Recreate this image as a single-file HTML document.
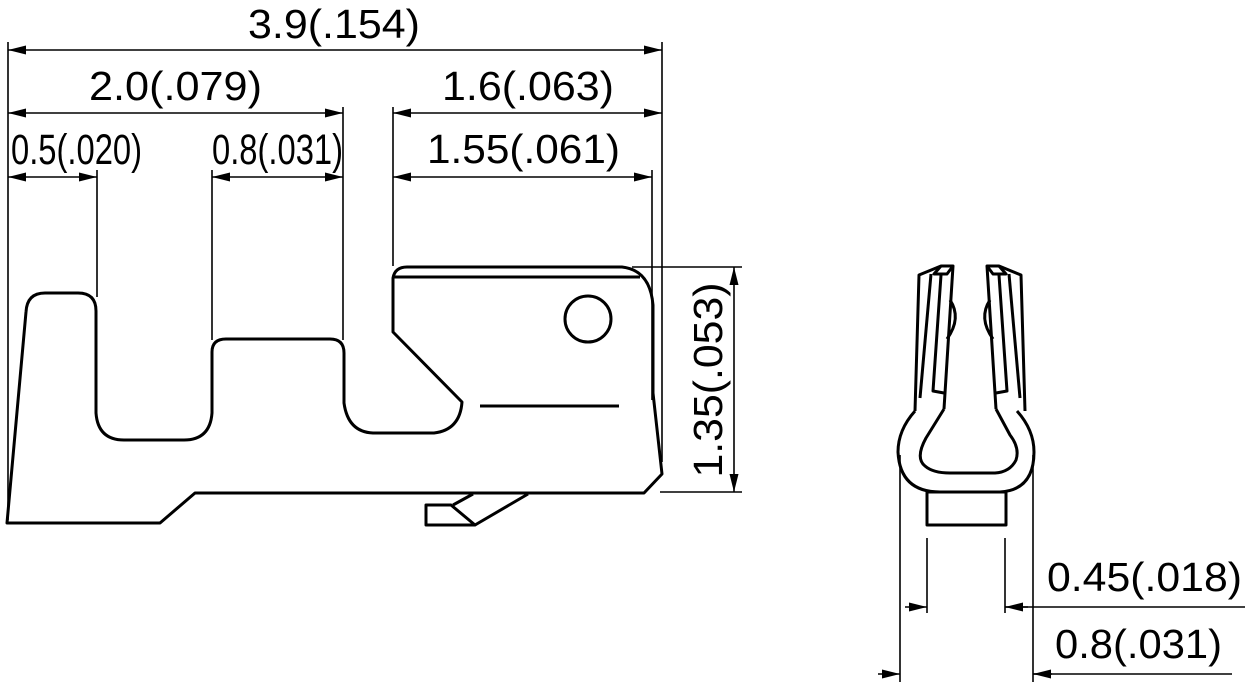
<!DOCTYPE html>
<html><head><meta charset="utf-8"><style>
html,body{margin:0;padding:0;background:#fff;}
svg{display:block;}
text{font-family:"Liberation Sans",Arial,sans-serif;fill:#000;}
</style></head><body>
<svg width="1250" height="688" viewBox="0 0 1250 688" xmlns="http://www.w3.org/2000/svg">
<defs>
<marker id="a" viewBox="0 0 18 9" refX="18" refY="4.5" markerWidth="18" markerHeight="9" markerUnits="userSpaceOnUse" orient="auto-start-reverse">
<path d="M0,0 L18,4.5 L0,9 Z" fill="#000"/></marker>
</defs>
<g stroke="#000" stroke-width="1.6" fill="none">
<line x1="8" y1="42" x2="8" y2="520"/>
<line x1="662" y1="42" x2="662" y2="462"/>
<line x1="652" y1="170" x2="652" y2="400"/>
<line x1="97" y1="170" x2="97" y2="297"/>
<line x1="212" y1="170" x2="212" y2="340"/>
<line x1="343" y1="107" x2="343" y2="340"/>
<line x1="393" y1="107" x2="393" y2="266"/>
<line x1="8" y1="50" x2="662" y2="50" marker-start="url(#a)" marker-end="url(#a)"/>
<line x1="8" y1="113" x2="343" y2="113" marker-start="url(#a)" marker-end="url(#a)"/>
<line x1="393" y1="113" x2="662" y2="113" marker-start="url(#a)" marker-end="url(#a)"/>
<line x1="8" y1="177" x2="97" y2="177" marker-start="url(#a)" marker-end="url(#a)"/>
<line x1="212" y1="177" x2="343" y2="177" marker-start="url(#a)" marker-end="url(#a)"/>
<line x1="393" y1="177" x2="652" y2="177" marker-start="url(#a)" marker-end="url(#a)"/>
<line x1="632" y1="267" x2="742" y2="267"/>
<line x1="660" y1="492" x2="742" y2="492"/>
<line x1="734" y1="267" x2="734" y2="492" marker-start="url(#a)" marker-end="url(#a)"/>
</g>
<g stroke="#000" stroke-width="3" fill="none" stroke-linejoin="round">
<path d="M7,523 L26,312 Q27,293 45,293 L78,293 Q96,293 96,311 L96,413 Q98,440 124,440 L184,440 Q210,440 212,413 L212,352 Q212,339 226,339 L330,339 Q344,339 344,353 L344,403 Q348,432 373,433 L434,433 Q460,430 462,402 L393,332 L393,278 Q395,267 407,267 L622,267 Q650,270 653,305 L653,393 L662,474 L644,493 L195,493 L160,523 Z"/>
<line x1="393" y1="277" x2="640" y2="277"/>
<circle cx="588" cy="319" r="23"/>
<line x1="480" y1="406" x2="619" y2="406"/>
<path d="M426,505 L451,505 L475,525 L426,525 Z"/>
<path d="M475,525 L528,494"/>
<path d="M453,505 L473,494"/>
</g>
<g stroke="#000" stroke-width="3" fill="none" stroke-linejoin="round">
<path d="M915,411 L919,275 L941,266 L953,266 L944,409"/>
<path d="M931,274 L920,398"/>
<path d="M941,275 L933,391 L944,393"/>
<path d="M941,266 L934,274 L947,274 L953,266"/>
<path d="M950,300 Q962,318 947,339"/>
<path d="M1025,411 L1021,275 L999,266 L987,266 L996,409"/>
<path d="M1009,274 L1020,398"/>
<path d="M999,275 L1007,391 L996,393"/>
<path d="M999,266 L1006,274 L993,274 L987,266"/>
<path d="M990,300 Q978,318 993,339"/>
<path d="M915,411 Q898,430 898,452 Q900,492 940,492 L1000,492 Q1034,490 1034,452 Q1034,430 1017,411"/>
<path d="M944,409 L926,438 Q915,458 925,466 Q933,473 950,473 L995,473 Q1010,472 1016,460 Q1020,448 1010,435 L996,409"/>
<rect x="927" y="492" width="79" height="33"/>
</g>
<g stroke="#000" stroke-width="1.6" fill="none">
<line x1="900" y1="455" x2="900" y2="682"/>
<line x1="1033" y1="455" x2="1033" y2="682"/>
<line x1="927" y1="538" x2="927" y2="613"/>
<line x1="1005" y1="538" x2="1005" y2="613"/>
<line x1="905" y1="607" x2="927" y2="607" marker-end="url(#a)"/>
<line x1="1028" y1="607" x2="1005" y2="607" marker-end="url(#a)"/>
<line x1="1005" y1="607" x2="1245" y2="607"/>
<line x1="878" y1="674" x2="900" y2="674" marker-end="url(#a)"/>
<line x1="1052" y1="674" x2="1033" y2="674" marker-end="url(#a)"/>
<line x1="1033" y1="674" x2="1232" y2="674"/>
</g>
<g font-size="41">
<text x="248" y="38" textLength="172" lengthAdjust="spacingAndGlyphs">3.9(.154)</text>
<text x="89" y="100" textLength="173" lengthAdjust="spacingAndGlyphs">2.0(.079)</text>
<text x="442" y="100" textLength="172" lengthAdjust="spacingAndGlyphs">1.6(.063)</text>
<text x="427" y="163" textLength="193" lengthAdjust="spacingAndGlyphs">1.55(.061)</text>
<text x="1047" y="591" textLength="195" lengthAdjust="spacingAndGlyphs">0.45(.018)</text>
<text x="1055" y="658" textLength="167" lengthAdjust="spacingAndGlyphs">0.8(.031)</text>
<text transform="translate(722,380) rotate(-90)" text-anchor="middle" textLength="195" lengthAdjust="spacingAndGlyphs">1.35(.053)</text>
</g>
<g font-size="43">
<text x="11" y="164" textLength="131" lengthAdjust="spacingAndGlyphs">0.5(.020)</text>
<text x="212" y="164" textLength="131" lengthAdjust="spacingAndGlyphs">0.8(.031)</text>
</g>
</svg>
</body></html>
